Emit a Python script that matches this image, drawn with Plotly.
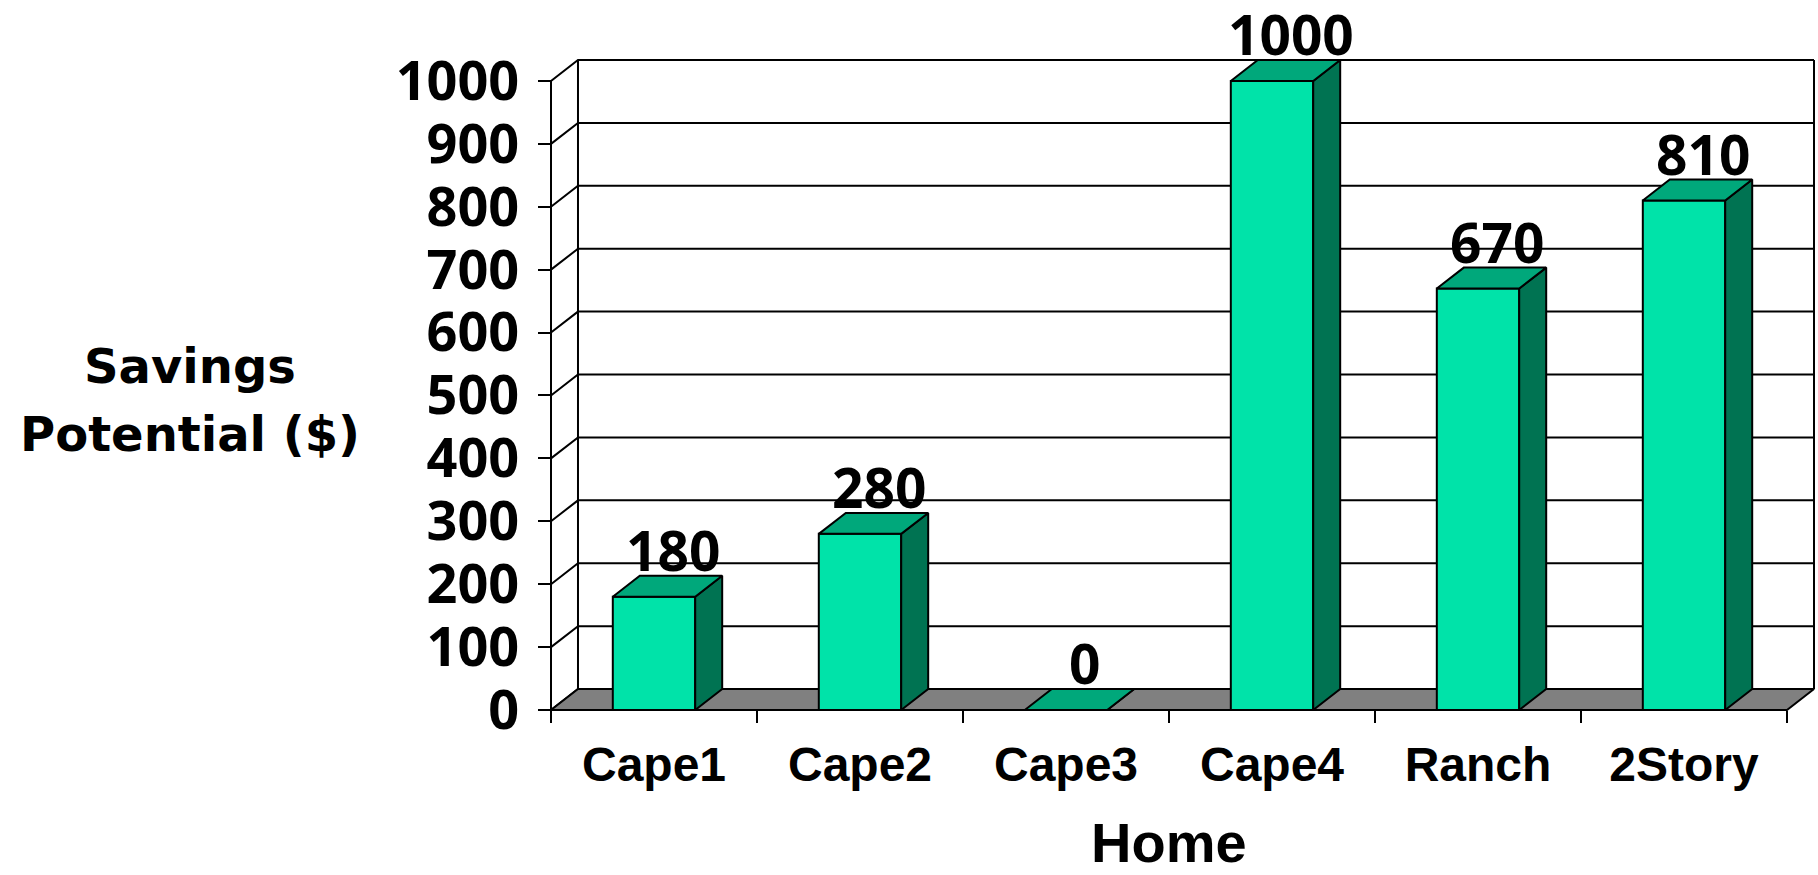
import plotly.graph_objects as go

# ---- data ----
homes = ["Cape1", "Cape2", "Cape3", "Cape4", "Ranch", "2Story"]
savings = [180, 280, 0, 1000, 670, 810]
y_ticks = [0, 100, 200, 300, 400, 500, 600, 700, 800, 900, 1000]

# ---- styling / geometry ----
W, H = 1818, 875
DEPTH_X = 0.131      # depth of the 3-D look, in category units
DEPTH_Y = 33.3       # depth of the 3-D look, in dollars
BAR_HALF = 0.2       # half width of a bar, in category units
PAD = 4              # pixels kept around the frame so edge lines are not clipped

FRONT_LEFT, BACK_RIGHT = 551, 1814   # pixel x of front-left axis and back-right wall edge
BASE, TOP = 710, 60                  # pixel y of front baseline and top of back wall

FRONT = "#00E3A9"
TOPC = "#00A87B"
SIDE = "#007352"
FLOOR = "#808080"
LINE = "black"

n = len(homes)
xmax = n + DEPTH_X
ymax = y_ticks[-1] + DEPTH_Y
pxu = (BACK_RIGHT - FRONT_LEFT) / xmax
pyu = (BASE - TOP) / ymax
ml, mr = FRONT_LEFT - PAD, max(W - BACK_RIGHT - PAD, 0)
mt, mb = TOP - PAD, H - BASE - PAD
plot_w, plot_h = W - ml - mr, H - mt - mb
x_range = [-PAD / pxu, xmax + PAD / pxu]
y_range = [-PAD / pyu, ymax + PAD / pyu]

TICK_FONT = dict(family="Open Sans", size=54, color="black", weight="bold")
VALUE_FONT = dict(family="Open Sans", size=55, color="black", weight="bold")
CAT_FONT = dict(family="Liberation Sans", size=48, color="black", weight="bold")
YTITLE_FONT = dict(family="DejaVu Sans", size=48, color="black", weight="bold")
XTITLE_FONT = dict(family="Liberation Sans", size=56, color="black", weight="bold")

fig = go.Figure()


def poly(xs, ys, fill=None, width=2):
    if fill is None:
        fig.add_trace(go.Scatter(x=xs, y=ys, mode="lines",
                                 line=dict(color=LINE, width=width),
                                 hoverinfo="skip", showlegend=False))
    else:
        fig.add_trace(go.Scatter(x=list(xs) + [xs[0]], y=list(ys) + [ys[0]],
                                 mode="lines", fill="toself", fillcolor=fill,
                                 line=dict(color=LINE, width=width),
                                 hoverinfo="skip", showlegend=False))


# back wall gridlines with their diagonal on the side wall
for v in y_ticks:
    poly([0, DEPTH_X, n + DEPTH_X], [v, v + DEPTH_Y, v + DEPTH_Y])
# back wall vertical edges
poly([DEPTH_X, DEPTH_X], [DEPTH_Y, ymax])
poly([n + DEPTH_X, n + DEPTH_X], [DEPTH_Y, ymax])

# floor
poly([0, n, n + DEPTH_X, DEPTH_X], [0, 0, DEPTH_Y, DEPTH_Y], fill=FLOOR)

# bars: front, side and top faces
for i, v in enumerate(savings):
    c = i + 0.5
    l, r = c - BAR_HALF, c + BAR_HALF
    poly([l, r, r, l], [0, 0, v, v], fill=FRONT)
    poly([r, r + DEPTH_X, r + DEPTH_X, r], [0, DEPTH_Y, v + DEPTH_Y, v], fill=SIDE)
    poly([l, r, r + DEPTH_X, l + DEPTH_X], [v, v, v + DEPTH_Y, v + DEPTH_Y], fill=TOPC)

# front value axis line
poly([0, 0], [0, y_ticks[-1]])

# ticks at category boundaries (x), category names at centres (x2)
fig.add_trace(go.Scatter(x=[0.5], y=[0], xaxis="x2", mode="markers",
                         marker=dict(opacity=0), hoverinfo="skip", showlegend=False))

# value labels
for i, v in enumerate(savings):
    fig.add_annotation(x=i + 0.5 + 0.09, y=v + DEPTH_Y, text=str(v),
                       showarrow=False, yanchor="bottom", yshift=-13,
                       font=VALUE_FONT)

# y-axis title, written horizontally on two lines
for line_text, ypix in (("Savings", 366), ("Potential ($)", 434)):
    fig.add_annotation(xref="paper", yref="paper",
                       x=(190 - ml) / plot_w, y=(H - mb - ypix) / plot_h,
                       text=line_text, showarrow=False,
                       xanchor="center", yanchor="middle", font=YTITLE_FONT)

# x-axis title
fig.add_annotation(xref="x", yref="paper", x=n / 2, y=(H - mb - 842) / plot_h,
                   text="Home", showarrow=False, xanchor="center", yanchor="middle",
                   font=XTITLE_FONT)

x_pos = PAD / plot_h
y_pos = PAD / plot_w
fig.update_layout(
    width=W, height=H,
    margin=dict(l=ml, r=mr, t=mt, b=mb, pad=0),
    paper_bgcolor="white", plot_bgcolor="white",
    showlegend=False,
    xaxis=dict(range=x_range, tickvals=list(range(n + 1)), ticks="outside",
               ticklen=12, tickwidth=2, tickcolor=LINE, showticklabels=False,
               showgrid=False, zeroline=False, showline=False,
               anchor="free", position=x_pos, fixedrange=True),
    xaxis2=dict(range=x_range, overlaying="x", side="bottom",
                tickvals=[i + 0.5 for i in range(n)], ticktext=homes,
                ticks="", tickfont=CAT_FONT, ticklabelstandoff=22,
                showgrid=False, zeroline=False, showline=False,
                anchor="free", position=x_pos, fixedrange=True),
    yaxis=dict(range=y_range, tickvals=y_ticks, ticks="outside", ticklen=13,
               tickwidth=2, tickcolor=LINE, tickfont=TICK_FONT,
               ticklabelstandoff=8,
               showgrid=False, zeroline=False, showline=False,
               anchor="free", position=y_pos, fixedrange=True),
)

fig.write_html("out.html")
